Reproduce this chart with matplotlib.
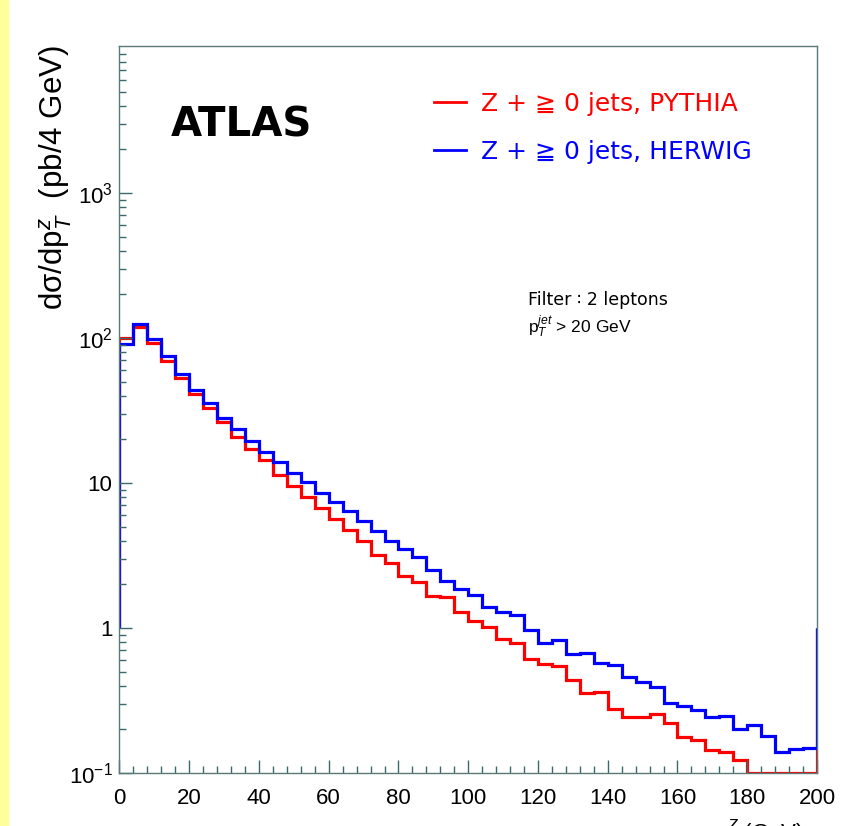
import numpy as np
import matplotlib
matplotlib.use("Agg")
import matplotlib.pyplot as plt
from matplotlib.ticker import FixedLocator, FuncFormatter, LogLocator, MultipleLocator
from matplotlib.patches import Rectangle

plt.rcParams['font.family'] = ['Liberation Sans', 'DejaVu Sans']
plt.rcParams['mathtext.fontset'] = 'custom'
plt.rcParams['mathtext.rm'] = 'Liberation Sans'
plt.rcParams['mathtext.it'] = 'Liberation Sans:italic'

# 4 GeV bins from 0 to 200
bin_edges = np.arange(0, 204, 4)

pythia = [100.5, 119, 91.9, 69.4, 53.2, 40.9, 32.7, 26.2, 20.9, 17.1,
          14.3, 11.4, 9.57, 8.04, 6.68, 5.62, 4.74, 3.98, 3.2, 2.79,
          2.29, 2.09, 1.65, 1.63, 1.29, 1.12, 1.02, 0.836, 0.783, 0.608,
          0.567, 0.547, 0.438, 0.355, 0.362, 0.278, 0.242, 0.245, 0.255, 0.220,
          0.178, 0.169, 0.144, 0.140, 0.123, 0, 0, 0, 0, 0]

herwig = [90.5, 124, 98.4, 75.5, 56.5, 43.8, 35.8, 28.2, 23.6, 19.6,
          16.3, 13.9, 11.8, 10.2, 8.57, 7.43, 6.38, 5.47, 4.69, 4.0,
          3.49, 3.08, 2.52, 2.11, 1.85, 1.69, 1.40, 1.29, 1.23, 0.973,
          0.793, 0.823, 0.662, 0.676, 0.577, 0.556, 0.461, 0.426, 0.390, 0.305,
          0.290, 0.272, 0.242, 0.247, 0.200, 0.213, 0.180, 0.140, 0.146, 0.148]

labels = ["Z + \u2267 0 jets, PYTHIA", "Z + \u2267 0 jets, HERWIG"]
ymin, ymax = 0.1, 1.03e4

fig = plt.figure(figsize=(8.54, 8.26), dpi=100)
fig.patches.append(Rectangle((0, 0), 8 / 854, 1, transform=fig.transFigure,
                             color='#ffff99', zorder=0))
ax = fig.add_axes([119.5 / 854, 1 - 773 / 826, 697.5 / 854, 727 / 826])
ax.set_yscale('log')

# ROOT-style outline with baseline at 1 on a log axis; empty bins sit on the axis
ax.stairs(np.clip(pythia, ymin, None), bin_edges, baseline=1, color='#ff0000',
          lw=2.3, label=labels[0])
ax.stairs(herwig, bin_edges, baseline=1, color='#0000ff', lw=2.3, label=labels[1])

ax.set_xlim(0, 200)
ax.set_ylim(ymin, ymax)

tick_col = '#3a6a6a'
for s in ax.spines.values():
    s.set_color('#5a7a7a')
    s.set_linewidth(1.0)

ax.xaxis.set_major_locator(MultipleLocator(20))
ax.xaxis.set_minor_locator(MultipleLocator(4))
ax.yaxis.set_major_locator(FixedLocator([0.1, 1, 10, 100, 1000]))
ax.yaxis.set_minor_locator(LogLocator(base=10, subs=np.arange(2, 10)))
ylab = {0.1: '$10^{-1}$', 1: '1', 10: '10', 100: '$10^{2}$', 1000: '$10^{3}$'}
ax.yaxis.set_major_formatter(FuncFormatter(lambda v, p: ylab.get(round(v, 3), '')))
ax.yaxis.set_minor_formatter(FuncFormatter(lambda v, p: ''))
ax.tick_params(which='both', direction='in', top=False, right=False, color=tick_col)
ax.tick_params(which='major', length=9.5, width=1.0, labelsize=16)
ax.tick_params(which='minor', length=5, width=1.0)
ax.tick_params(axis='x', which='major', pad=11)
ax.tick_params(axis='y', which='major', pad=5)

fig.text(56 / 854, 1 - 45 / 826, 'd\u03c3/dp$_{T}^{z}$  (pb/4 GeV)', rotation=90,
         ha='center', va='top', fontsize=22.5)
fig.text(715 / 854, 1 - 817 / 826, 'p$_{T}^{Z}$ (GeV)', ha='left', va='top', fontsize=16)

ax.text(0.073, 0.89, 'ATLAS', transform=ax.transAxes, fontsize=29,
        ha='left', va='center', family=['DejaVu Sans'], fontweight='bold')
ax.text(0.586, 0.650, 'Filter \u2236 2 leptons', transform=ax.transAxes,
        fontsize=12.5, ha='left', va='center', family=['DejaVu Sans'])
ax.text(0.586, 0.614, 'p$_{T}^{jet}$ > 20 GeV', transform=ax.transAxes,
        fontsize=12.5, ha='left', va='center')

leg = ax.legend(loc='upper left', bbox_to_anchor=(0.418, 0.968), frameon=False,
                labelcolor='linecolor', handlelength=1.3,
                handletextpad=0.6, labelspacing=0.95,
                prop={'family': ['DejaVu Sans', 'Noto Sans CJK JP'], 'size': 18})
for h in leg.legend_handles:
    h.set_linewidth(2.0)

fig.savefig('out.png', dpi=100, facecolor='white')
